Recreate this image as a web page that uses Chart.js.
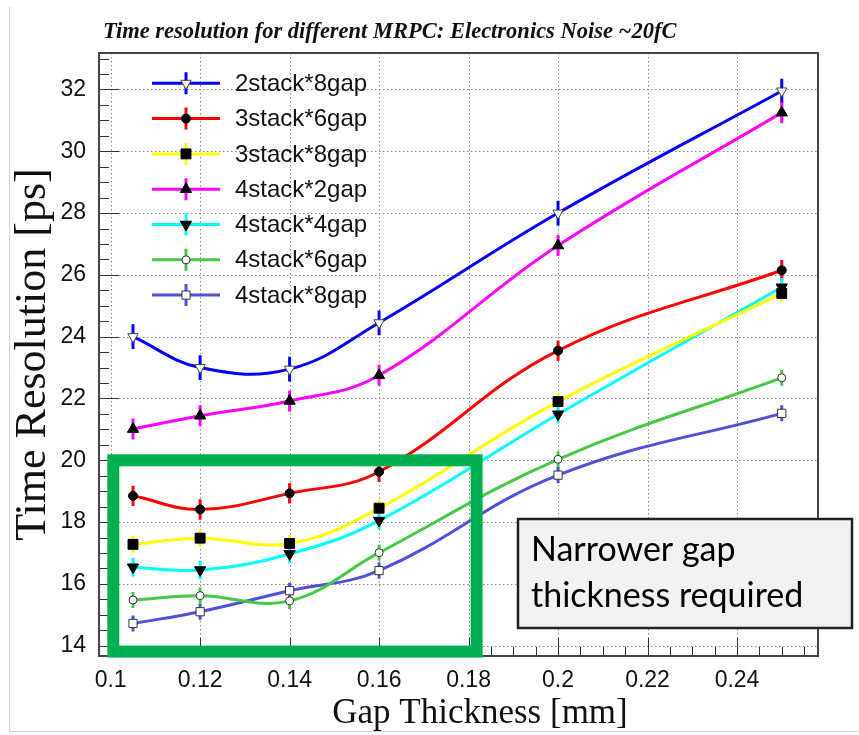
<!DOCTYPE html>
<html>
<head>
<meta charset="utf-8">
<script src="https://cdn.jsdelivr.net/npm/chart.js@4.4.0/dist/chart.umd.min.js"></script>
<style>
  html, body { margin: 0; padding: 0; background: #fff; }
</style>
</head>
<body>
<canvas id="mrpc-chart" width="859" height="735"></canvas>
<script>
var gapThickness = [0.105, 0.12, 0.14, 0.16, 0.2, 0.25];

var seriesNames = ['2stack*8gap', '3stack*6gap', '3stack*8gap', '4stack*2gap', '4stack*4gap', '4stack*6gap', '4stack*8gap'];
var res2s8g = [24.0, 23.0, 22.95, 24.45, 28.0, 31.95];
var res3s6g = [18.85, 18.41, 18.93, 19.63, 23.55, 26.15];
var res3s8g = [17.28, 17.48, 17.31, 18.45, 21.9, 25.4];
var res4s2g = [21.01, 21.44, 21.92, 22.75, 26.95, 31.25];
var res4s4g = [16.54, 16.45, 16.97, 18.05, 21.49, 25.6];
var res4s6g = [15.48, 15.62, 15.45, 17.01, 20.03, 22.67];
var res4s8g = [14.72, 15.1, 15.78, 16.43, 19.52, 21.52];
var resErrors = [0.4, 0.33, 0.27, 0.34, 0.3, 0.26, 0.26];

var xTicks = [0.1, 0.12, 0.14, 0.16, 0.18, 0.2, 0.22, 0.24];
var yTicks = [14, 16, 18, 20, 22, 24, 26, 28, 30, 32];

var seriesValues = [res2s8g, res3s6g, res3s8g, res4s2g, res4s4g, res4s6g, res4s8g];

// ROOT-like line colours and markers
var styles = [
  { color: '#0000ff', point: 'triangle', rot: 180, r: 6, fill: '#fff', edge: '#444' },
  { color: '#ff0000', point: 'circle', rot: 0, r: 4.5, fill: '#000', edge: '#000' },
  { color: '#ffff00', point: 'rect', rot: 0, r: 7, fill: '#000', edge: '#000' },
  { color: '#ff00ff', point: 'triangle', rot: 0, r: 6.5, fill: '#000', edge: '#000' },
  { color: '#00ffff', point: 'triangle', rot: 180, r: 6.5, fill: '#000', edge: '#000' },
  { color: '#46c846', point: 'circle', rot: 0, r: 4, fill: '#fff', edge: '#333' },
  { color: '#5050d8', point: 'rect', rot: 0, r: 5.8, fill: '#fff', edge: '#333' }
];

var datasets = seriesValues.map(function(vals, i) {
  var s = styles[i];
  return {
    label: seriesNames[i],
    data: gapThickness.map(function(x, j) { return { x: x, y: vals[j] }; }),
    borderColor: s.color,
    borderWidth: 3,
    tension: 0.4,
    fill: false,
    pointStyle: s.point,
    pointRotation: s.rot,
    pointRadius: s.r,
    pointBackgroundColor: s.fill,
    pointBorderColor: s.edge,
    pointBorderWidth: 1
  };
});

function minorValues(majors, n, min, max) {
  var step = majors[1] - majors[0];
  var out = [];
  for (var i = -n; i <= (majors.length) * n; i++) {
    var v = majors[0] + i * step / n;
    if (v >= min - 1e-9 && v <= max + 1e-9) out.push(v);
  }
  return out;
}

var rootFrame = {
  id: 'rootFrame',
  beforeDatasetsDraw: function(chart) {
    var ctx = chart.ctx, a = chart.chartArea;
    var xs = chart.scales.x, ys = chart.scales.y;
    ctx.save();
    // dotted grid
    ctx.strokeStyle = '#8a8a8a';
    ctx.lineWidth = 1;
    ctx.setLineDash([1.5, 2.5]);
    ctx.beginPath();
    xTicks.forEach(function(v) {
      var px = Math.round(xs.getPixelForValue(v)) + 0.5;
      ctx.moveTo(px, a.top); ctx.lineTo(px, a.bottom);
    });
    yTicks.forEach(function(v) {
      var py = Math.round(ys.getPixelForValue(v)) + 0.5;
      ctx.moveTo(a.left, py); ctx.lineTo(a.right, py);
    });
    ctx.stroke();
    ctx.setLineDash([]);
    // error bars
    ctx.beginPath();
    ctx.rect(a.left, a.top, a.width, a.height);
    ctx.clip();
    ctx.lineWidth = 3;
    seriesValues.forEach(function(vals, i) {
      ctx.strokeStyle = styles[i].color;
      ctx.beginPath();
      vals.forEach(function(v, j) {
        var px = xs.getPixelForValue(gapThickness[j]);
        ctx.moveTo(px, ys.getPixelForValue(v - resErrors[i]));
        ctx.lineTo(px, ys.getPixelForValue(v + resErrors[i]));
      });
      ctx.stroke();
    });
    ctx.restore();
  },
  afterDraw: function(chart) {
    var ctx = chart.ctx, a = chart.chartArea;
    var xs = chart.scales.x, ys = chart.scales.y;
    ctx.save();

    // tick marks pointing into the frame
    ctx.strokeStyle = '#333';
    ctx.lineWidth = 1;
    ctx.beginPath();
    minorValues(yTicks, 4, ys.min, ys.max).forEach(function(v, i) {
      var py = Math.round(ys.getPixelForValue(v)) + 0.5;
      var major = yTicks.some(function(t) { return Math.abs(t - v) < 1e-6; });
      ctx.moveTo(a.left, py); ctx.lineTo(a.left + (major ? 20 : 10), py);
    });
    minorValues(xTicks, 4, xs.min, xs.max).forEach(function(v) {
      var px = Math.round(xs.getPixelForValue(v)) + 0.5;
      var major = xTicks.some(function(t) { return Math.abs(t - v) < 1e-6; });
      ctx.moveTo(px, a.bottom); ctx.lineTo(px, a.bottom - (major ? 18 : 9));
    });
    ctx.stroke();

    ctx.strokeStyle = '#444';
    ctx.lineWidth = 2;
    ctx.strokeRect(a.left, a.top, a.width, a.height);

    // legend inside the frame
    var lx = 152, ly = 83.3, step = 35.3;
    seriesNames.forEach(function(name, i) {
      var s = styles[i], y = ly + i * step;
      ctx.strokeStyle = s.color;
      ctx.lineWidth = 3;
      ctx.beginPath();
      ctx.moveTo(lx, y); ctx.lineTo(lx + 68, y);
      ctx.moveTo(lx + 34, y - 11); ctx.lineTo(lx + 34, y + 11);
      ctx.stroke();
      ctx.fillStyle = s.fill;
      ctx.strokeStyle = s.edge;
      ctx.lineWidth = 1;
      Chart.helpers.drawPoint(ctx, { pointStyle: s.point, rotation: s.rot, radius: s.r, borderWidth: 1 }, lx + 34, y);
      ctx.fillStyle = '#111';
      ctx.font = '24px "Liberation Sans"';
      ctx.textAlign = 'left';
      ctx.textBaseline = 'middle';
      ctx.fillText(name, 235, y + 1);
    });

    // highlighted region
    ctx.strokeStyle = '#00b050';
    ctx.lineWidth = 12;
    var gx1 = xs.getPixelForValue(0.1006), gx2 = xs.getPixelForValue(0.1818);
    var gy1 = ys.getPixelForValue(20.0), gy2 = ys.getPixelForValue(13.81);
    ctx.strokeRect(gx1, gy1, gx2 - gx1, gy2 - gy1);

    // note box
    ctx.fillStyle = '#f2f2f2';
    ctx.fillRect(518, 519, 334, 109);
    ctx.strokeStyle = '#222';
    ctx.lineWidth = 2.5;
    ctx.strokeRect(518, 519, 334, 109);
    ctx.fillStyle = '#000';
    ctx.font = '34px Lato';
    ctx.textAlign = 'left';
    ctx.textBaseline = 'alphabetic';
    ctx.fillText('Narrower gap', 531, 561);
    ctx.fillText('thickness required', 531, 607);

    // title and axis titles
    ctx.fillStyle = '#111';
    ctx.font = 'italic bold 22.5px "Liberation Serif"';
    ctx.fillText('Time resolution for different MRPC: Electronics Noise ~20fC', 103, 38);

    ctx.font = '35px "Liberation Serif"';
    ctx.textAlign = 'center';
    ctx.textBaseline = 'middle';
    ctx.fillText('Gap Thickness [mm]', 480, 714);

    ctx.save();
    ctx.translate(33, (a.top + a.bottom) / 2);
    ctx.rotate(-Math.PI / 2);
    ctx.font = '44px "Liberation Serif"';
    ctx.fillText('Time Resolution [ps]', 0, 0);
    ctx.restore();

    // page border of the screenshot
    ctx.strokeStyle = '#d4d4d4';
    ctx.lineWidth = 1;
    ctx.beginPath();
    ctx.moveTo(9.5, 7); ctx.lineTo(9.5, 731.5); ctx.lineTo(859, 731.5);
    ctx.stroke();

    ctx.restore();
  }
};

var config = {
  type: 'line',
  data: { datasets: datasets },
  options: {
    responsive: false,
    animation: false,
    devicePixelRatio: 1,
    layout: { padding: { left: 0, top: 53, right: 41, bottom: 0 } },
    plugins: {
      legend: { display: false },
      title: { display: false },
      tooltip: { enabled: false }
    },
    scales: {
      x: {
        type: 'linear',
        min: 0.0974,
        max: 0.2581,
        afterBuildTicks: function(axis) {
          axis.ticks = xTicks.map(function(v) { return { value: v }; });
        },
        afterFit: function(axis) { axis.height = 79; },
        grid: { display: false },
        border: { display: false },
        ticks: {
          padding: 3,
          color: '#111',
          font: { family: 'Liberation Sans', size: 23 },
          callback: function(v) { return String(v); }
        }
      },
      y: {
        type: 'linear',
        min: 13.667,
        max: 33.18,
        afterBuildTicks: function(axis) {
          axis.ticks = yTicks.map(function(v) { return { value: v }; });
        },
        afterFit: function(axis) { axis.width = 99; },
        grid: { display: false },
        border: { display: false },
        ticks: {
          padding: 5,
          color: '#111',
          font: { family: 'Liberation Sans', size: 23 },
          callback: function(v) { return String(v); }
        }
      }
    }
  },
  plugins: [rootFrame]
};

var ctx = document.getElementById('mrpc-chart').getContext('2d');
var mrpcChart = new Chart(ctx, config);
</script>
</body>
</html>
